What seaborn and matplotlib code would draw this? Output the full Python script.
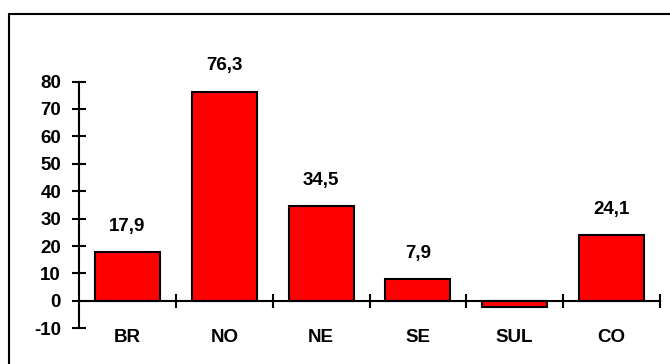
import matplotlib
matplotlib.use("Agg")
import matplotlib.pyplot as plt
from matplotlib.patches import Rectangle
import seaborn as sns
import pandas as pd

# Regional values (%)
regions = ["BR", "NO", "NE", "SE", "SUL", "CO"]
values = [17.9, 76.3, 34.5, 7.9, -2.4, 24.1]
y_ticks = [-10, 0, 10, 20, 30, 40, 50, 60, 70, 80]

sns.set_style("white")
plt.rcParams["font.family"] = ["Liberation Sans", "DejaVu Sans"]
plt.rcParams["font.weight"] = "bold"
plt.rcParams["axes.unicode_minus"] = False
plt.rcParams["text.color"] = "black"
plt.rcParams["xtick.color"] = "black"
plt.rcParams["ytick.color"] = "black"
plt.rcParams["axes.labelcolor"] = "black"

df = pd.DataFrame({"regiao": regions, "valor": values})

fig = plt.figure(figsize=(6.7, 3.64), dpi=100)
ax = fig.add_axes([0.118, 0.098, 0.867, 0.678])

sns.barplot(data=df, x="regiao", y="valor", color="#FF0000", saturation=1,
            edgecolor="black", linewidth=1.5, width=0.67, ax=ax)

ax.set_xlim(-0.5, len(regions) - 0.5)
ax.set_ylim(-10, 80)
ax.set_xlabel("")
ax.set_ylabel("")

# Axes: left spine and a baseline at zero
for side in ("top", "right"):
    ax.spines[side].set_visible(False)
ax.spines["left"].set_linewidth(1.5)
ax.spines["bottom"].set_linewidth(1.5)
ax.spines["bottom"].set_position(("data", 0))
ax.spines["left"].set_color("black")
ax.spines["bottom"].set_color("black")

ax.set_yticks(y_ticks)
ax.set_yticklabels([str(t) for t in y_ticks])
ax.tick_params(axis="y", direction="inout", length=10, width=1.5, pad=8,
               labelsize=13.5, color="black", labelcolor="black", left=True)

# Category labels centred; separators between categories
ax.set_xticks(range(len(regions)))
ax.set_xticklabels(regions)
ax.tick_params(axis="x", which="major", length=0, pad=20, labelsize=13.5,
               labelcolor="black")
ax.set_xticks([i + 0.5 for i in range(len(regions))], minor=True)
ax.tick_params(axis="x", which="minor", direction="inout", length=10,
               width=1.5, color="black", bottom=True)

for lab in ax.get_xticklabels() + ax.get_yticklabels():
    lab.set_fontweight("bold")

# Value labels above positive bars
for i, v in enumerate(values):
    if v > 0:
        ax.annotate(f"{v:.1f}".replace(".", ","), xy=(i, v),
                    xytext=(0, 18.5), textcoords="offset points",
                    ha="center", va="center", fontsize=13.5,
                    fontweight="bold", color="black")

# Chart frame
fig.patches.append(Rectangle((9 / 670, -0.1), 1.2, 1.1 - 14 / 364,
                             transform=fig.transFigure, fill=False,
                             edgecolor="black", linewidth=1.5))

fig.savefig("out.png", dpi=100)
